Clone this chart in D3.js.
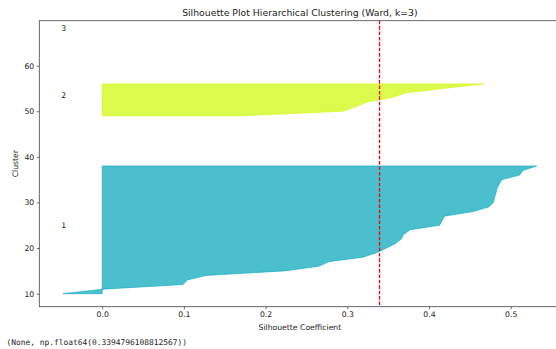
<!DOCTYPE html>
<html>
<head>
<meta charset="utf-8">
<script src="https://cdn.jsdelivr.net/npm/d3@7"></script>
<style>
  html, body { margin: 0; padding: 0; background: #fff; }
  svg { display: block; }
  text { font-family: "DejaVu Sans", sans-serif; fill: #222; }
  .mono { font-family: "DejaVu Sans Mono", monospace; }
</style>
</head>
<body>
<svg id="chart" width="556" height="349"></svg>
<script>
// Silhouette values per cluster, sorted ascending (Ward linkage, k = 3)
const clusterLabels = ["1", "2", "3"];
const cluster1Values = [-0.048, 0.001, 0.099, 0.104, 0.127, 0.223, 0.265, 0.277, 0.319, 0.336,
                        0.348, 0.359, 0.366, 0.369, 0.377, 0.413, 0.416, 0.419, 0.454, 0.473,
                        0.479, 0.480, 0.482, 0.483, 0.486, 0.489, 0.511, 0.515, 0.532];
const cluster2Values = [0.170, 0.295, 0.310, 0.324, 0.355, 0.371, 0.418, 0.467];
const cluster3Values = [0.0];
const clusterValues = [cluster1Values, cluster2Values, cluster3Values];
const clusterColors = ["rgb(0,164,187)", "rgb(204,249,0)", "rgb(204,204,204)"];
const silhouetteAvg = 0.3394796108812567;
const xTicks = [0.0, 0.1, 0.2, 0.3, 0.4, 0.5];
const yTicks = [10, 20, 30, 40, 50, 60];
const titleText = "Silhouette Plot Hierarchical Clustering (Ward, k=3)";
const xLabel = "Silhouette Coefficient";
const yLabel = "Cluster";
const outputLine = "(None, np.float64(" + silhouetteAvg + "))";

const svg = d3.select("#chart");
const plot = { left: 39.3, right: 560.5, top: 20.7, bottom: 306.7 };

// Stack clusters vertically, 10 units apart, starting at y = 10
const bands = [];
let yLower = 10;
clusterValues.forEach((vals, i) => {
  const pts = vals.map((v, j) => ({ y: yLower + j, v: v }));
  bands.push({ label: clusterLabels[i], color: clusterColors[i], pts: pts,
               labelY: yLower + 0.5 * vals.length });
  yLower = yLower + vals.length + 10;
});

// Autoscaled limits with 5% padding
const allX = [0].concat(...clusterValues);
const xMin = d3.min(allX), xMax = d3.max(allX);
const xPad = (xMax - xMin) * 0.05;
const allY = bands.flatMap(b => b.pts.map(p => p.y));
const yMin = d3.min(allY), yMax = d3.max(allY);
const yPad = (yMax - yMin) * 0.05;

const x = d3.scaleLinear().domain([xMin - xPad, xMax + xPad]).range([plot.left, plot.right]);
const y = d3.scaleLinear().domain([yMin - yPad, yMax + yPad]).range([plot.bottom, plot.top]);

svg.append("rect").attr("width", 556).attr("height", 349).attr("fill", "#fff");

// Silhouette bands
const area = d3.area()
  .x0(() => x(0))
  .x1(d => x(d.v))
  .y(d => y(d.y))
  .curve(d3.curveLinear);

svg.append("g").selectAll("path")
  .data(bands.filter(b => b.pts.length > 1))
  .join("path")
  .attr("d", b => area(b.pts))
  .attr("fill", b => b.color)
  .attr("stroke", b => b.color)
  .attr("stroke-width", 0.8)
  .attr("fill-opacity", 0.7)
  .attr("stroke-opacity", 0.7);

// Cluster labels
svg.append("g").selectAll("text")
  .data(bands)
  .join("text")
  .attr("x", x(-0.05))
  .attr("y", b => y(b.labelY))
  .attr("font-size", 7.7)
  .text(b => b.label);

// Average silhouette score
svg.append("line")
  .attr("x1", x(silhouetteAvg)).attr("x2", x(silhouetteAvg))
  .attr("y1", plot.top).attr("y2", plot.bottom)
  .style("stroke", "#ff0000")
  .attr("stroke-width", 1.3)
  .attr("stroke-dasharray", "3.6,1.8");

// Axes
const xAxis = d3.axisBottom(x).tickValues(xTicks).tickFormat(d3.format(".1f"))
  .tickSizeOuter(0).tickSizeInner(2.6).tickPadding(2.5);
const gx = svg.append("g").attr("transform", `translate(0,${plot.bottom})`).call(xAxis);
const yAxis = d3.axisLeft(y).tickValues(yTicks).tickFormat(d3.format("d"))
  .tickSizeOuter(0).tickSizeInner(2.6).tickPadding(2.5);
const gy = svg.append("g").attr("transform", `translate(${plot.left},0)`).call(yAxis);
[gx, gy].forEach(g => {
  g.select(".domain").remove();
  g.selectAll(".tick line").attr("stroke", "#333").attr("stroke-width", 0.7);
  g.selectAll(".tick text").attr("font-size", 7.7).attr("fill", "#222")
    .attr("font-family", "DejaVu Sans, sans-serif");
});

// Spines
const spine = svg.append("g").attr("stroke", "#444").attr("stroke-width", 0.8).attr("fill", "none");
spine.append("rect")
  .attr("x", plot.left).attr("y", plot.top)
  .attr("width", plot.right - plot.left).attr("height", plot.bottom - plot.top);

// Titles
svg.append("text")
  .attr("x", (plot.left + plot.right) / 2).attr("y", 16)
  .attr("text-anchor", "middle").attr("font-size", 9.3)
  .text(titleText);
svg.append("text")
  .attr("x", (plot.left + plot.right) / 2).attr("y", 329.5)
  .attr("text-anchor", "middle").attr("font-size", 7.7)
  .text(xLabel);
svg.append("text")
  .attr("transform", `translate(17.5,${(plot.top + plot.bottom) / 2}) rotate(-90)`)
  .attr("text-anchor", "middle").attr("font-size", 7.7)
  .text(yLabel);

// Printed return value below the figure
svg.append("text")
  .attr("class", "mono")
  .attr("x", 6.5).attr("y", 344.5)
  .attr("font-size", 7.9)
  .text(outputLine);
</script>
</body>
</html>
